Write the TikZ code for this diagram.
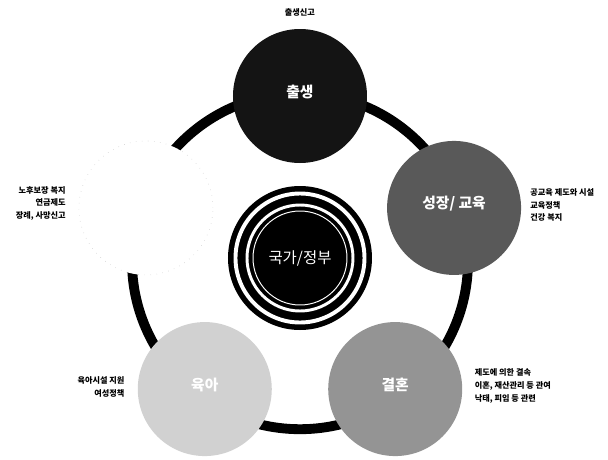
\documentclass[tikz,border=0pt]{standalone}
\usepackage{fontspec}
\setmainfont{Noto Sans CJK KR}
\usetikzlibrary{calc}

\begin{document}
\begin{tikzpicture}[
    stage/.style={circle, minimum size=3.35cm, inner sep=0pt, text depth=2.6mm,
      text=white, font=\bfseries\fontsize{10.5}{12}\selectfont},
    note/.style={inner sep=0pt, font=\bfseries\fontsize{5.8}{9}\selectfont},
  ]
  \useasboundingbox (-7.5, -5.025) rectangle (7.7, 6.45);
  \coordinate (mid) at (0, 0);

  % ring behind the stages
  \draw[line width=7pt] ($(mid)+(0,-0.08)$) circle (4.2);

  % government in the middle
  \fill (mid) circle (1.8);
  \draw[white, line width=2.8pt] (mid) circle (1.6125);
  \draw[white, line width=2.1pt] (mid) circle (1.325);
  \draw[white, line width=0.7pt] (mid) circle (1.175);
  \node[text=white, font=\fontsize{11}{13}\selectfont] (gov) at (mid) {국가/정부};

  % stages of life
  \node[stage, fill=black!92] (birth) at ($(mid)+(90:4.05)$) {출생};
  \node[stage, fill=black!65] (growth) at ($(mid)+(18:4.05)$) {성장/ 교육};
  \node[stage, fill=black!42] (marriage) at ($(mid)+(-54:4.05)$) {결혼};
  \node[stage, fill=black!18] (care) at ($(mid)+(-126:4.05)$) {육아};
  \node[stage, fill=white, draw=black!25, dash pattern=on 0.3pt off 4pt] (age) at ($(mid)+(162:4.05)$) {};

  % notes
  \node[note] (birthnote) at ($(birth.north)+(0,0.4)$) {출생신고};
  \node[note, anchor=west, align=left] (growthnote) at ($(growth.east)+(0.22,0.07)$)
    {공교육 제도와 시설\\교육정책\\건강 복지};
  \node[note, anchor=west, align=left] (marriagenote) at ($(marriage.east)+(0.3,0.08)$)
    {제도에 의한 결속\\이혼, 재산관리 등 관여\\낙태, 피임 등 관련};
  \node[note, anchor=east, align=right] (carenote) at ($(care.west)+(-0.32,0.05)$)
    {육아시설 지원\\여성정책};
  \node[note, anchor=east, align=right] (agenote) at ($(age.west)+(-0.32,0.12)$)
    {노후보장 복지\\연금제도\\장례, 사망신고};
\end{tikzpicture}
\end{document}
